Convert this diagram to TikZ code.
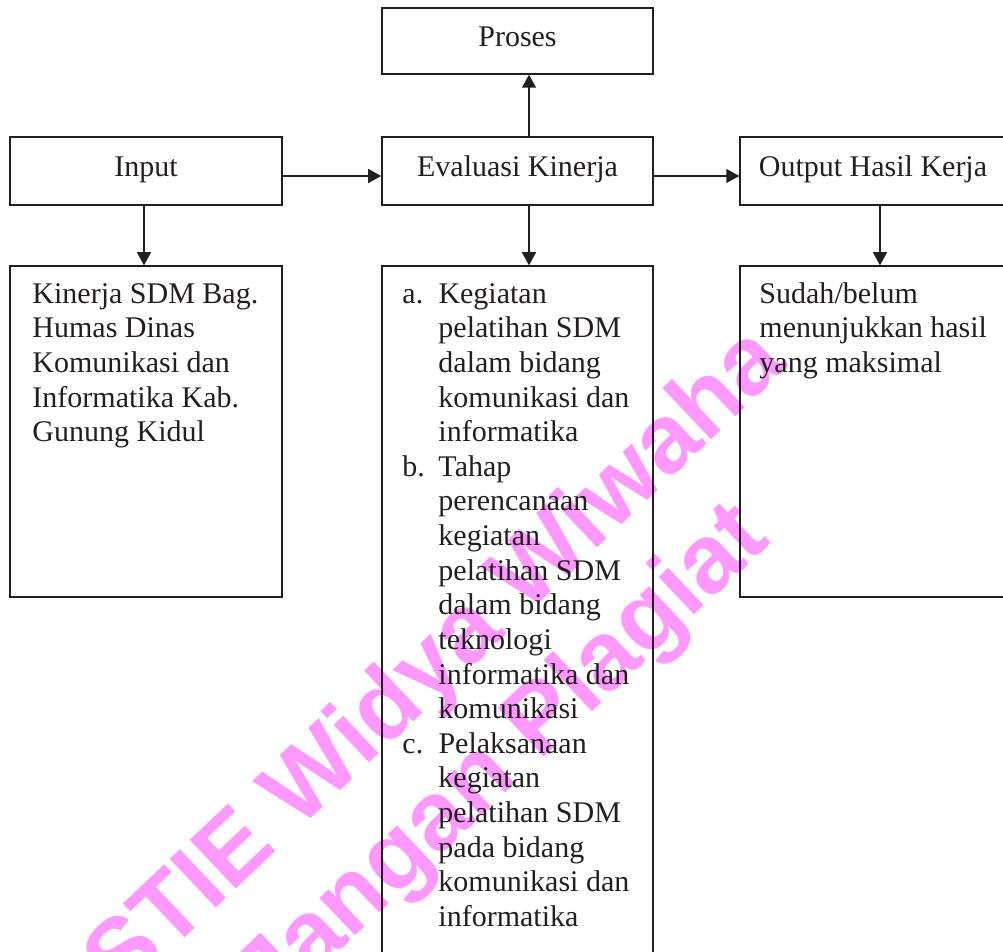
\documentclass[tikz,border=0pt]{standalone}
\usepackage{fontspec}
\setmainfont{Liberation Serif}
\newfontfamily\wmfont{Liberation Sans}
\usetikzlibrary{arrows.meta,fit}
\definecolor{ink}{RGB}{35,31,32}
\definecolor{wmpink}{RGB}{255,153,255}
\tikzset{
  frame/.style={draw=ink, line width=0.6pt, inner sep=0pt},
  box/.style={frame, text=ink, font=\fontsize{12}{14}\selectfont,
    text height=7.6pt, text depth=2.8pt, minimum height={68*0.4pt}},
  body/.style={anchor=north west, inner sep=0pt, align=left, text=ink,
    font=\fontsize{12}{13.85}\selectfont},
  arr/.style={draw=ink, line width=0.6pt, -{Triangle[length=5.2pt,width=5.6pt]}},
  wm/.style={text=wmpink, inner sep=0pt, rotate=43.4,
    font=\wmfont\bfseries\fontsize{39}{39}\selectfont}
}
\begin{document}
\begin{tikzpicture}[x=0.4pt, y=-0.4pt]
\useasboundingbox (0,0) rectangle (1003,952);
% watermark
\node[wm] (wm1) at (438,664) {STIE Widya Wiwaha};
\node[wm] (wm2) at (505,760) {Jangan Plagiat};
% top row
\node[box, minimum width={271*0.4pt}, minimum height={66*0.4pt}] (pr) at (517.5,41) {Proses};
\node[box, minimum width={272*0.4pt}] (in) at (146,171) {Input};
\node[box, minimum width={271*0.4pt}] (ev) at (517.5,171) {Evaluasi Kinerja};
\node[box, minimum width={266*0.4pt}] (out) at (873,171) {Output Hasil Kerja};
% lower boxes
\node[frame, fit={(10,266) (282,597)}] (k1) {};
\node[frame, fit={(382,266) (653,965)}] (k2) {};
\node[frame, fit={(740,266) (1006,597)}] (k3) {};
% texts
\node[body] (t1) at (32,278.5) {\strut Kinerja SDM Bag.\\Humas Dinas\\Komunikasi dan\\Informatika Kab.\\Gunung Kidul};
\node[body] (t2) at (402,278.5) {\strut\makebox[14.4pt][l]{a.}Kegiatan\\
\hspace*{14.4pt}pelatihan SDM\\
\hspace*{14.4pt}dalam bidang\\
\hspace*{14.4pt}komunikasi dan\\
\hspace*{14.4pt}informatika\\
\makebox[14.4pt][l]{b.}Tahap\\
\hspace*{14.4pt}perencanaan\\
\hspace*{14.4pt}kegiatan\\
\hspace*{14.4pt}pelatihan SDM\\
\hspace*{14.4pt}dalam bidang\\
\hspace*{14.4pt}teknologi\\
\hspace*{14.4pt}informatika dan\\
\hspace*{14.4pt}komunikasi\\
\makebox[14.4pt][l]{c.}Pelaksanaan\\
\hspace*{14.4pt}kegiatan\\
\hspace*{14.4pt}pelatihan SDM\\
\hspace*{14.4pt}pada bidang\\
\hspace*{14.4pt}komunikasi dan\\
\hspace*{14.4pt}informatika};
\node[body] (t3) at (759,278.5) {\strut Sudah/belum\\menunjukkan hasil\\yang maksimal};
% connectors
\coordinate (hy) at (0,176);
\coordinate (vx) at (529,0);
\coordinate (ix) at (144,0);
\coordinate (ox) at (880,0);
\draw[arr] (in.east |- hy) -- (ev.west |- hy);
\draw[arr] (ev.east |- hy) -- (out.west |- hy);
\draw[arr] (ev.north -| vx) -- (pr.south -| vx);
\draw[arr] (in.south -| ix) -- (k1.north -| ix);
\draw[arr] (ev.south -| vx) -- (k2.north -| vx);
\draw[arr] (out.south -| ox) -- (k3.north -| ox);
\end{tikzpicture}
\end{document}
